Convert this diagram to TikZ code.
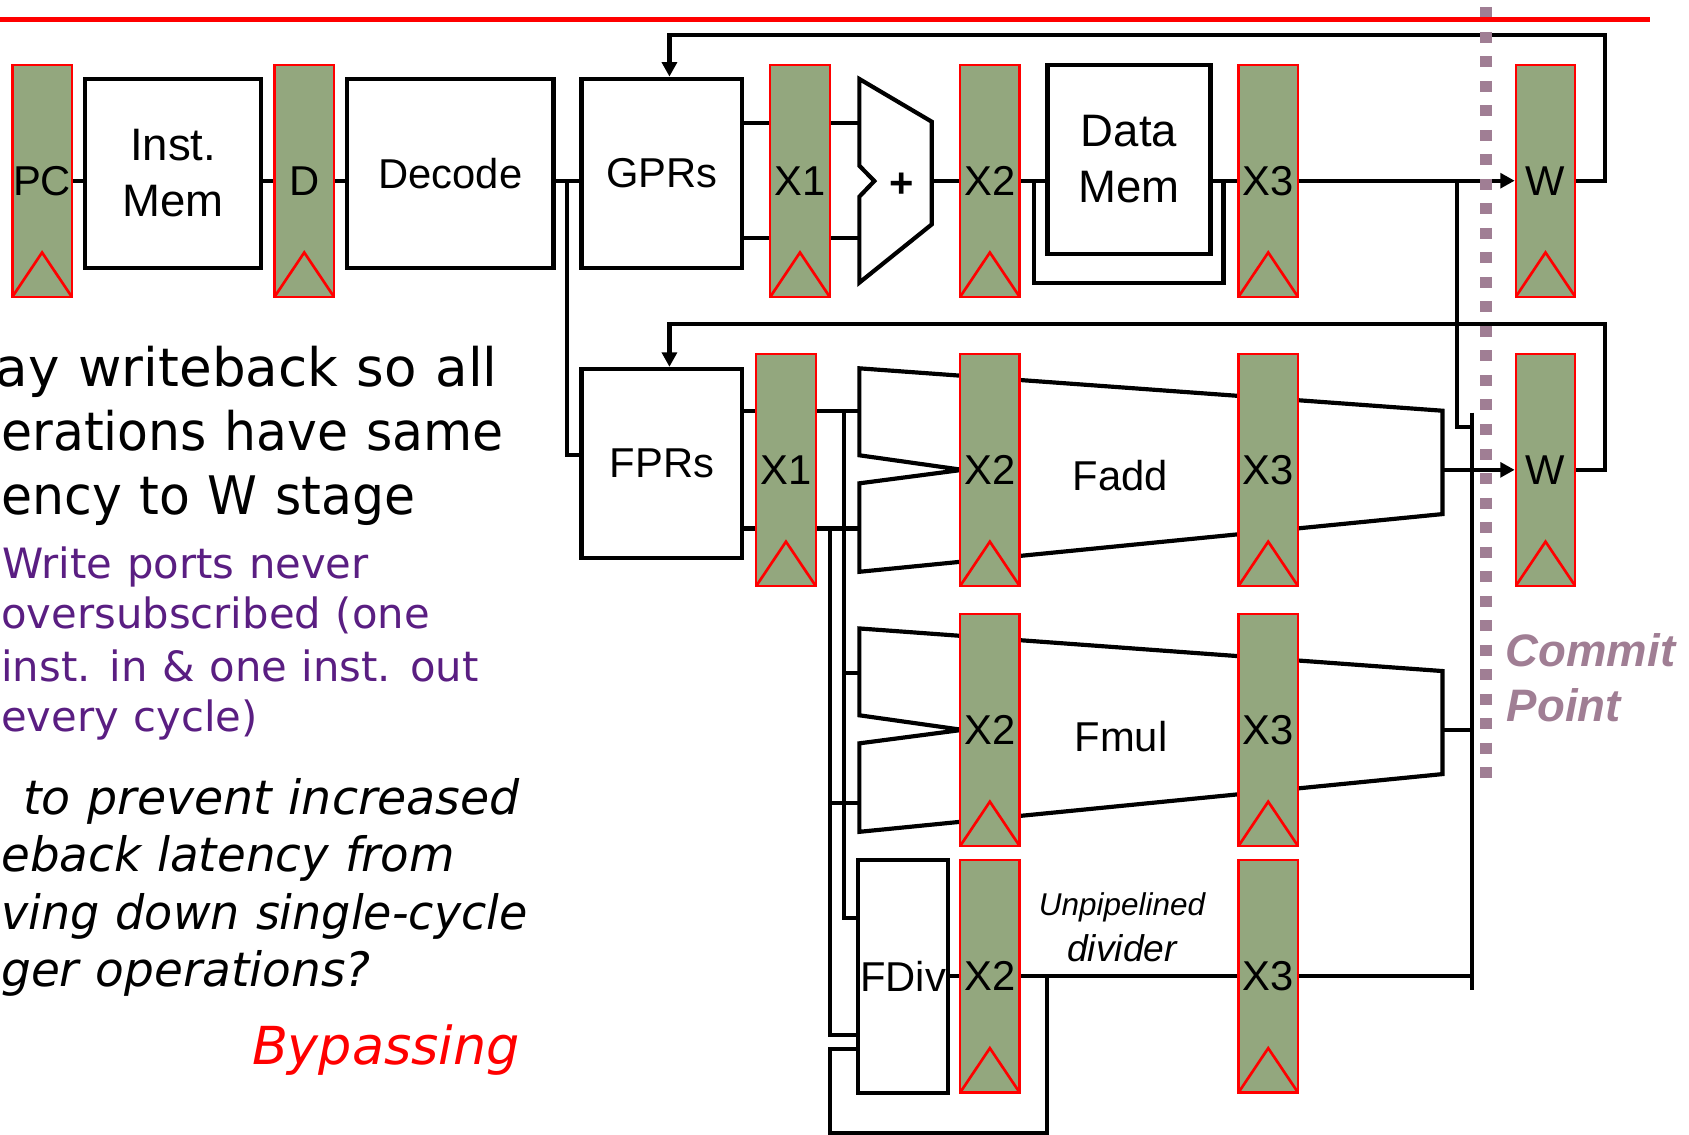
\documentclass[tikz,border=0pt]{standalone}
\usepackage{fontspec}
\setmainfont{Liberation Sans}
\newfontfamily\verd[WordSpace=1.1]{DejaVu Sans}
\usetikzlibrary{arrows.meta}
\definecolor{regg}{RGB}{147,167,126}
\definecolor{mauve}{RGB}{160,126,148}
\definecolor{purp}{RGB}{90,30,130}
\pgfdeclarelayer{bg}
\pgfsetlayers{bg,main}
\begin{document}
\begin{tikzpicture}[x=0.01cm,y=-0.01cm,
  reg/.style={rectangle,draw=red,fill=regg,line width=0.6pt,minimum width=0.55cm,minimum height=2.15cm,inner sep=0pt,
    font=\fontsize{11pt}{13pt}\selectfont,
    path picture={\draw[red,line width=0.7pt] (path picture bounding box.south west) -- ([yshift=0.41cm]path picture bounding box.south) -- (path picture bounding box.south east);}},
  blk/.style={rectangle,draw=black,fill=white,line width=1.1pt,inner sep=0pt,align=center,font=\fontsize{11pt}{14.9pt}\selectfont},
  lbl/.style={inner sep=0pt,font=\fontsize{11pt}{13pt}\selectfont},
  wire/.style={line width=1.1pt,black},
  arr/.style={wire,-{Triangle[length=3.8pt,width=3.9pt]}},
  bigtxt/.style={inner sep=0pt,font=\verd\fontsize{14pt}{16pt}\selectfont},
  purtxt/.style={anchor=base west,inner sep=0pt,text=purp,font=\verd\fontsize{11pt}{13pt}\selectfont},
  ittxt/.style={anchor=base west,inner sep=0pt,font=\verd\itshape\fontsize{12.5pt}{15pt}\selectfont}]
\useasboundingbox (0,0) rectangle (1565.5,1052);

% ---------- left text ----------
\node[bigtxt,anchor=base east] (t1) at (462,358.4) {ay writeback so all};
\node[bigtxt,anchor=base west] (t2) at (0.5,417.2) {\scalebox{0.95}[1]{erations have same}};
\node[bigtxt,anchor=base west] (t3) at (0.5,476.8) {\scalebox{0.95}[1]{ency to W stage}};
\node[purtxt] (p1) at (1.5,536.1) {Write ports never};
\node[purtxt] (p2) at (0.5,582.5) {oversubscribed (one};
\node[purtxt] (p3) at (0.5,631.9) {inst. in \& one inst. out};
\node[purtxt] (p4) at (0.5,678.3) {every cycle)};
\node[ittxt,anchor=base east] (i1) at (482.5,754.6) {to prevent increased};
\node[ittxt] (i2) at (0.5,808) {\scalebox{0.985}[1]{eback latency from}};
\node[ittxt] (i3) at (0.5,861.5) {\scalebox{0.97}[1]{ving down single-cycle}};
\node[ittxt] (i4) at (0.5,914.6) {\scalebox{0.99}[1]{ger operations?}};
\node[ittxt,anchor=base east,text=red,font=\verd\itshape\fontsize{13.8pt}{16pt}\selectfont] (byp) at (482.5,986.4) {Bypassing};

% ---------- integer pipeline ----------
\node[reg] (PC) at (39,167.5) {PC};
\node[blk,minimum width=1.63cm,minimum height=1.75cm,font=\fontsize{12pt}{14.9pt}\selectfont] (imem) at (160.5,160.5) {Inst.\\Mem};
\node[reg] (D) at (282,167.5) {D};
\node[blk,minimum width=1.91cm,minimum height=1.75cm] (dec) at (417.5,160.5) {Decode};
\node[blk,minimum width=1.49cm,minimum height=1.75cm] (gprs) at (613.5,160.5) {GPRs};
\node[reg] (X1a) at (741.5,167.5) {X1};
\node[reg] (X2a) at (917.5,167.5) {X2};
\node[blk,minimum width=1.51cm,minimum height=1.75cm,font=\fontsize{12pt}{14.9pt}\selectfont] (dmem) at (1046.5,147.5) {Data\\Mem};
\node[reg] (X3a) at (1175.5,167.5) {X3};
\node[reg] (Wa) at (1432.5,167.5) {W};
\node[lbl,font=\bfseries\fontsize{11pt}{13pt}\selectfont] (plus) at (836,171.5) {+};

% ---------- floating point ----------
\node[blk,minimum width=1.49cm,minimum height=1.75cm] (fprs) at (613.5,429.5) {FPRs};
\node[reg] (X1b) at (728.5,435.5) {X1};
\node[reg] (X2b) at (917.5,435.5) {X2};
\node[reg] (X3b) at (1175.5,435.5) {X3};
\node[reg] (Wb) at (1432.5,435.5) {W};
\node[reg] (X2c) at (917.5,676.5) {X2};
\node[reg] (X3c) at (1175.5,676.5) {X3};
\node[blk,minimum width=0.835cm,minimum height=2.16cm] (fdiv) at (837,905) {FDiv};
\node[reg] (X2d) at (917.5,905) {X2};
\node[reg] (X3d) at (1175.5,905) {X3};
\node[lbl] (faddl) at (1038.5,441) {Fadd};
\node[lbl] (fmull) at (1039,683) {Fmul};
\node[lbl,anchor=base,font=\itshape\fontsize{8.3pt}{10pt}\selectfont] (unp) at (1040,848.2) {Unpipelined};
\node[lbl,anchor=base,font=\itshape\fontsize{9.8pt}{11pt}\selectfont] (divl) at (1040,891.5) {divider};

% ---------- coordinates ----------
\coordinate (ya) at (0,113.7);
\coordinate (yb) at (0,220.9);
\coordinate (yc) at (0,380.7);
\coordinate (yd) at (0,489.8);
\coordinate (ye) at (0,623.6);
\coordinate (yf) at (0,744);
\coordinate (alu1) at (796.5,73.2);
\coordinate (alu2) at (863.6,112.8);
\coordinate (alu3) at (863.6,208);
\coordinate (alu4) at (796.5,262);
\coordinate (alu5) at (796.5,182.3);
\coordinate (alu6) at (810.4,167.8);
\coordinate (alu7) at (796.5,153.6);
\coordinate (fa1) at (796.5,341.4);
\coordinate (fa2) at (1337,380.7);
\coordinate (fa3) at (1337,476.5);
\coordinate (fa4) at (796.5,530);
\coordinate (fa5) at (796.5,448);
\coordinate (fa6) at (892,435.5);
\coordinate (fa7) at (796.5,422);
\coordinate (fm1) at (796.5,582.5);
\coordinate (fm2) at (1337,622);
\coordinate (fm3) at (1337,717.5);
\coordinate (fm4) at (796.5,771);
\coordinate (fm5) at (796.5,689);
\coordinate (fm6) at (892,676.5);
\coordinate (fm7) at (796.5,663);
\coordinate (b1) at (525.2,167.5);
\coordinate (b2) at (525.2,421.8);
\coordinate (dm1) at (958.6,167.5);
\coordinate (dm2) at (1134,262);
\coordinate (j1) at (1350.5,167.5);
\coordinate (j2) at (1350.5,395.5);
\coordinate (j3) at (1364,395.5);
\coordinate (lp1) at (1488,32.4);
\coordinate (lp2) at (620.5,32.4);
\coordinate (lq1) at (1488,300.5);
\coordinate (lq2) at (620.5,300.5);
\coordinate (v1) at (782,380.7);
\coordinate (v1b) at (782,851);
\coordinate (v2) at (769,489.8);
\coordinate (v2b) at (769,959.5);
\coordinate (fl1) at (769,972);
\coordinate (fl2) at (769,1050);
\coordinate (fl3) at (970.5,1050);
\coordinate (fl4) at (970.5,905);
\coordinate (bus1) at (1364,382.5);
\coordinate (bus2) at (1364,917.7);
\coordinate (cm1) at (1377.5,6.8);
\coordinate (cm2) at (1377.5,731);

\begin{pgfonlayer}{bg}
% integer row
\draw[wire] (PC.east) -- (PC.east -| imem.west);
\draw[wire] (imem.east |- D.west) -- (D.west);
\draw[wire] (D.east) -- (D.east -| dec.west);
\draw[wire] (dec.east |- D.east) -- (gprs.west |- D.east);
\draw[wire] (b1) -- (b2) -- (b2 -| fprs.west);
\draw[wire] (gprs.east |- ya) -- (X1a.west |- ya);
\draw[wire] (gprs.east |- yb) -- (X1a.west |- yb);
\draw[wire] (X1a.east |- ya) -- (alu1 |- ya);
\draw[wire] (X1a.east |- yb) -- (alu1 |- yb);
\draw[wire,fill=white] (alu1) -- (alu2) -- (alu3) -- (alu4) -- (alu5) -- (alu6) -- (alu7) -- cycle;
\draw[wire] (alu2 |- X2a.west) -- (X2a.west);
\draw[wire] (X2a.east) -- (X2a.east -| dmem.west);
\draw[wire] (dm1) -- (dm1 |- dm2) -- (dm2) -- (dm2 |- X3a.west);
\draw[wire] (dmem.east |- X3a.west) -- (X3a.west);
\draw[arr] (X3a.east) -- (Wa.west);
\draw[wire] (j1) -- (j2) -- (j3);
\draw[arr] (Wa.east) -- (Wa.east -| lp1) -- (lp1) -- (lp2) -- (lp2 |- gprs.north);
% floating point
\draw[wire] (fprs.east |- yc) -- (X1b.west |- yc);
\draw[wire] (fprs.east |- yd) -- (X1b.west |- yd);
\draw[wire] (X1b.east |- yc) -- (fa1 |- yc);
\draw[wire] (X1b.east |- yd) -- (fa1 |- yd);
\draw[wire] (fa1) -- (fa2) -- (fa3) -- (fa4) -- (fa5) -- (fa6) -- (fa7) -- cycle;
\draw[wire] (fm1) -- (fm2) -- (fm3) -- (fm4) -- (fm5) -- (fm6) -- (fm7) -- cycle;
\draw[wire] (v1) -- (v1b) -- (v1b -| fdiv.west);
\draw[wire] (v2) -- (v2b) -- (v2b -| fdiv.west);
\draw[wire] (v1 |- ye) -- (fm1 |- ye);
\draw[wire] (v2 |- yf) -- (fm1 |- yf);
\draw[wire] (fdiv.west |- fl1) -- (fl1) -- (fl2) -- (fl3) -- (fl4);
\draw[wire] (fdiv.east |- X2d.west) -- (X2d.west);
\draw[wire] (X2d.east) -- (X3d.west);
\draw[wire] (X3d.east) -- (X3d.east -| bus1);
\draw[wire] (bus1) -- (bus2);
\draw[arr] (fa2 |- Wb.west) -- (Wb.west);
\draw[wire] (fm2 |- X3c.east) -- (X3c.east -| bus1);
\draw[arr] (Wb.east) -- (Wb.east -| lq1) -- (lq1) -- (lq2) -- (lq2 |- fprs.north);
\end{pgfonlayer}

% commit point
\draw[mauve,line width=3.07pt,dash pattern=on 2.9pt off 3.56pt] (cm1) -- (cm2);
\node[anchor=base west,inner sep=0pt,text=mauve,font=\bfseries\itshape\fontsize{12pt}{14pt}\selectfont] (cp1) at (1395,618) {Commit};
\node[anchor=base west,inner sep=0pt,text=mauve,font=\bfseries\itshape\fontsize{12pt}{14pt}\selectfont] (cp2) at (1396,669) {Point};

% top red rule
\coordinate (r1) at (0,18);
\coordinate (r2) at (1529,18);
\draw[red,line width=1.4pt] (r1) -- (r2);
\end{tikzpicture}
\end{document}
